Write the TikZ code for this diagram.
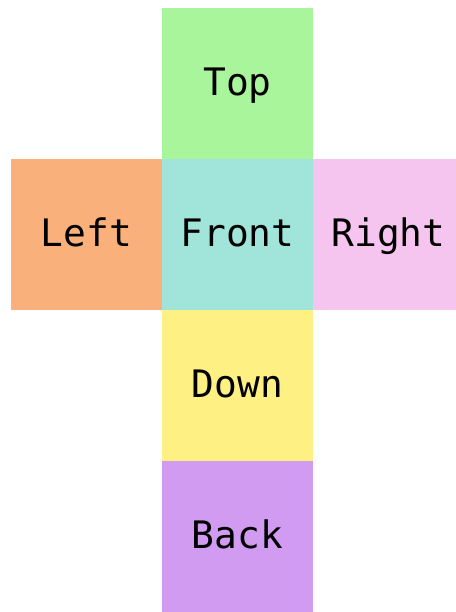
\documentclass[tikz,border=0pt]{standalone}
\usepackage{fontspec}
\setmonofont{DejaVu Sans Mono}
\usepackage{xcolor}
\usetikzlibrary{positioning}

\definecolor{topgreen}{HTML}{A9F59C}
\definecolor{leftorange}{HTML}{F9B07A}
\definecolor{frontteal}{HTML}{A0E4DA}
\definecolor{rightpink}{HTML}{F5C5F0}
\definecolor{downyellow}{HTML}{FEF083}
\definecolor{backpurple}{HTML}{D09BF0}

\begin{document}
\begin{tikzpicture}[
    node distance=0pt,
    face/.style={rectangle, minimum width=151bp, minimum height=151bp, inner sep=0pt, outer sep=0pt, text height=30bp, text depth=6bp, font=\ttfamily\fontsize{38}{40}\selectfont, text=black},
]
\useasboundingbox (0,0) rectangle (456bp,612bp);
\node[face, fill=frontteal] (front) at (237.5bp,377bp) {Front};
\node[face, fill=topgreen, above=of front] (top) {Top};
\node[face, fill=leftorange, left=of front] (left) {Left};
\node[face, fill=rightpink, right=of front] (right) {Right};
\node[face, fill=downyellow, below=of front] (down) {Down};
\node[face, fill=backpurple, below=of down] (back) {Back};
\end{tikzpicture}
\end{document}
